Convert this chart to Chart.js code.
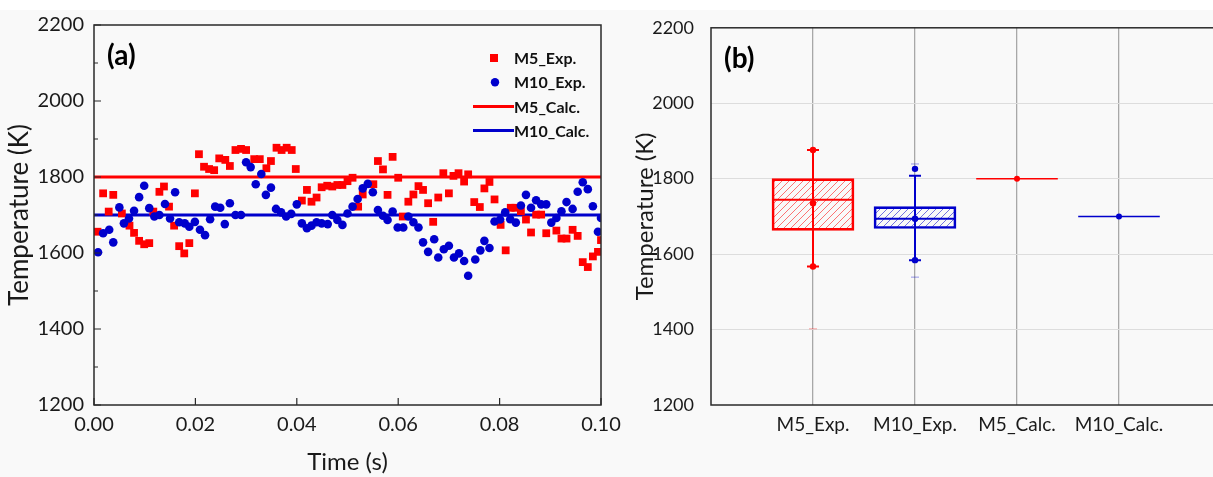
<!DOCTYPE html>
<html>
<head>
<meta charset="utf-8">
<script src="https://cdn.jsdelivr.net/npm/chart.js@4.4.1/dist/chart.umd.min.js"></script>
<style>
  html,body{margin:0;padding:0;background:#f9f9f9;overflow:hidden;width:1213px;height:477px;}
  #strip{position:absolute;left:0;top:0;width:1213px;height:10px;background:#ffffff;}
  .pane{position:absolute;top:0;height:477px;}
</style>
</head>
<body>
<div id="strip"></div>
<div class="pane" style="left:0;width:640px;"><canvas id="ca" width="640" height="477"></canvas></div>
<div class="pane" style="left:620px;width:640px;"><canvas id="cb" width="640" height="477"></canvas></div>
<script>
// ---------------- data ----------------
const m5Time = [0.0007,0.0018,0.0029,0.0038,0.0055,0.0070,0.0079,0.0089,0.0099,0.0109,0.0117,0.0129,0.0138,0.0148,0.0158,0.0168,0.0178,0.0188,0.0199,0.0207,0.0217,0.0227,0.0237,0.0247,0.0259,0.0268,0.0279,0.0290,0.0300,0.0316,0.0327,0.0340,0.0349,0.0360,0.0370,0.0380,0.0390,0.0398,0.0410,0.0420,0.0429,0.0439,0.0449,0.0460,0.0470,0.0480,0.0490,0.0500,0.0510,0.0521,0.0530,0.0551,0.0560,0.0570,0.0579,0.0589,0.0600,0.0609,0.0620,0.0630,0.0640,0.0649,0.0659,0.0669,0.0679,0.0689,0.0700,0.0709,0.0719,0.0730,0.0738,0.0750,0.0761,0.0770,0.0780,0.0790,0.0802,0.0812,0.0822,0.0831,0.0842,0.0852,0.0862,0.0872,0.0882,0.0892,0.0912,0.0922,0.0932,0.0944,0.0954,0.0964,0.0974,0.0984,0.0994,0.1000];
const m5Temp = [1656,1757,1709,1753,1704,1672,1653,1632,1623,1626,1709,1761,1775,1722,1672,1618,1599,1626,1757,1860,1827,1821,1818,1849,1845,1829,1871,1874,1871,1847,1847,1823,1842,1877,1871,1877,1871,1821,1738,1766,1735,1746,1773,1777,1775,1779,1779,1789,1798,1722,1754,1781,1842,1820,1753,1853,1798,1696,1735,1754,1776,1766,1731,1682,1746,1810,1757,1803,1810,1788,1807,1734,1721,1770,1787,1741,1674,1607,1719,1719,1710,1688,1654,1701,1701,1652,1659,1638,1638,1661,1645,1576,1563,1591,1603,1634];
const m10Time = [0.0008,0.0018,0.0030,0.0038,0.0050,0.0059,0.0069,0.0079,0.0089,0.0099,0.0109,0.0119,0.0129,0.0140,0.0150,0.0160,0.0168,0.0179,0.0188,0.0199,0.0209,0.0219,0.0229,0.0239,0.0249,0.0258,0.0268,0.0279,0.0290,0.0300,0.0309,0.0319,0.0330,0.0339,0.0349,0.0359,0.0369,0.0379,0.0389,0.0400,0.0410,0.0420,0.0429,0.0439,0.0449,0.0461,0.0470,0.0480,0.0490,0.0500,0.0510,0.0520,0.0530,0.0540,0.0550,0.0560,0.0570,0.0579,0.0589,0.0599,0.0610,0.0620,0.0630,0.0640,0.0649,0.0659,0.0671,0.0679,0.0690,0.0700,0.0710,0.0720,0.0730,0.0738,0.0752,0.0762,0.0770,0.0780,0.0790,0.0801,0.0811,0.0821,0.0832,0.0842,0.0852,0.0862,0.0872,0.0882,0.0892,0.0902,0.0912,0.0922,0.0932,0.0944,0.0954,0.0964,0.0974,0.0984,0.0994,0.1000];
const m10Temp = [1602,1652,1661,1628,1720,1678,1691,1711,1747,1777,1718,1696,1700,1729,1691,1760,1681,1678,1669,1682,1661,1647,1689,1722,1719,1676,1731,1700,1700,1839,1826,1781,1808,1753,1772,1716,1707,1696,1703,1728,1678,1665,1672,1681,1678,1676,1700,1687,1674,1704,1722,1742,1770,1782,1760,1713,1698,1687,1709,1667,1667,1696,1681,1667,1628,1603,1636,1588,1610,1619,1588,1599,1579,1540,1583,1607,1632,1613,1683,1688,1707,1689,1680,1725,1753,1719,1739,1728,1728,1680,1692,1710,1734,1716,1761,1786,1768,1723,1656,1692];
const calcLabels = ['M5_Calc.', 'M10_Calc.'];
const calcTemp = [1800, 1700];
const timeRange = [0, 0.1];
const tempRange = [1200, 2200];

const boxCategories = ['M5_Exp.', 'M10_Exp.', 'M5_Calc.', 'M10_Calc.'];
const boxQ1 = [1663, 1668];
const boxQ3 = [1800, 1726];
const boxMedian = [1744, 1694];
const boxMean = [1735, 1694];
const whiskerLow = [1567, 1584];
const whiskerHigh = [1876, 1808];
const dataMin = [1567, 1584];
const dataMax = [1876, 1826];
const faintMarks = [[1402], [1839, 1539]];

// ---------------- styles ----------------
const RED = '#ff0000', BLUE = '#0000cc';
const seriesColors = [RED, BLUE];
const FONT = 'Lato, "DejaVu Sans", sans-serif';
Chart.defaults.font.family = FONT;
Chart.defaults.color = '#1a1a1a';
const BOX_HALF = 0.4;

function hatch(color) {
  const c = document.createElement('canvas');
  c.width = 7; c.height = 7;
  const g = c.getContext('2d');
  g.strokeStyle = color; g.globalAlpha = 0.6; g.lineWidth = 0.9;
  g.beginPath();
  g.moveTo(-1, 8); g.lineTo(8, -1);
  g.stroke();
  return g.createPattern(c, 'repeat');
}

const framePlugin = {
  id: 'frame',
  afterDraw(chart, args, opts) {
    const {ctx, chartArea: a} = chart;
    ctx.save();
    ctx.strokeStyle = '#2a2a2a';
    ctx.lineWidth = 1.5;
    ctx.strokeRect(a.left, a.top, a.right - a.left, a.bottom - a.top);
    if (opts.ticks) {
      const ys = chart.scales.y, xs = chart.scales.x;
      ctx.lineWidth = 1.2;
      ctx.beginPath();
      const yt = ys.ticks.map(t => t.value);
      for (let i = 0; i < yt.length; i++) {
        const p = ys.getPixelForValue(yt[i]);
        ctx.moveTo(a.left, p); ctx.lineTo(a.left + 7, p);
        if (i < yt.length - 1) {
          const pm = ys.getPixelForValue((yt[i] + yt[i + 1]) / 2);
          ctx.moveTo(a.left, pm); ctx.lineTo(a.left + 4, pm);
        }
      }
      xs.ticks.forEach(t => {
        const p = xs.getPixelForValue(t.value);
        ctx.moveTo(p, a.bottom); ctx.lineTo(p, a.bottom - 7);
      });
      ctx.stroke();
    }
    if (opts.tag) {
      ctx.fillStyle = '#000';
      ctx.font = 'bold 28px ' + FONT;
      ctx.textBaseline = 'middle';
      ctx.textAlign = 'left';
      ctx.fillText(opts.tag, a.left + 13, a.top + 31);
    }
    if (opts.legend) {
      ctx.font = 'bold 16px ' + FONT;
      ctx.textBaseline = 'middle';
      ctx.textAlign = 'left';
      chart.data.datasets.forEach((ds, i) => {
        const y = a.top + 33 + i * 24.2;
        const tx = a.right - 87;
        const mx = a.right - 107;
        ctx.fillStyle = ds.backgroundColor || ds.borderColor;
        ctx.strokeStyle = ds.borderColor;
        if (ds.showLine) {
          ctx.lineWidth = 3;
          ctx.beginPath(); ctx.moveTo(a.right - 128, y); ctx.lineTo(a.right - 87, y); ctx.stroke();
        } else if (ds.pointStyle === 'rect') {
          ctx.fillRect(mx - 4, y - 4, 8, 8);
        } else {
          ctx.beginPath(); ctx.arc(mx + 1, y, 4.2, 0, Math.PI * 2); ctx.fill();
        }
        ctx.fillStyle = '#111';
        ctx.fillText(ds.label, tx, y + 1);
      });
    }
    ctx.restore();
  }
};

// ---------------- panel (a) ----------------
const pts = (xs, ys) => xs.map((x, i) => ({x, y: ys[i]}));
new Chart(document.getElementById('ca'), {
  type: 'scatter',
  data: {
    datasets: [
      {label: 'M5_Exp.', data: pts(m5Time, m5Temp), pointStyle: 'rect', pointRadius: 5.5, pointHoverRadius: 5.5,
       backgroundColor: RED, borderColor: RED, borderWidth: 0, order: 1},
      {label: 'M10_Exp.', data: pts(m10Time, m10Temp), pointStyle: 'circle', pointRadius: 4.3, pointHoverRadius: 4.3,
       backgroundColor: BLUE, borderColor: BLUE, borderWidth: 0, order: 0},
      {label: calcLabels[0], data: timeRange.map(t => ({x: t, y: calcTemp[0]})), showLine: true, pointRadius: 0,
       borderColor: RED, borderWidth: 3, order: 3},
      {label: calcLabels[1], data: timeRange.map(t => ({x: t, y: calcTemp[1]})), showLine: true, pointRadius: 0,
       borderColor: BLUE, borderWidth: 3, order: 2}
    ]
  },
  options: {
    responsive: false, animation: false,
    layout: {padding: {left: 0, top: 25, right: 39, bottom: 0}, autoPadding: false},
    plugins: {legend: {display: false}, tooltip: {enabled: false},
              frame: {ticks: true, tag: '(a)', legend: true}},
    scales: {
      x: {type: 'linear', min: timeRange[0], max: timeRange[1],
          afterFit(s) { s.height = 72; },
          grid: {display: false, drawTicks: false}, border: {display: false},
          ticks: {stepSize: 0.02, padding: 8, font: {size: 20}, color: '#1a1a1a', maxRotation: 0,
                  callback: v => v.toFixed(2)},
          title: {display: true, text: 'Time (s)', font: {size: 24}, color: '#1a1a1a', padding: {top: 0, bottom: 0}}},
      y: {min: tempRange[0], max: tempRange[1],
          afterFit(s) { s.width = 94; },
          grid: {display: false, drawTicks: false}, border: {display: false},
          ticks: {stepSize: 200, padding: 10, font: {size: 20}, color: '#1a1a1a', callback: v => String(v)},
          title: {display: true, text: 'Temperature (K)', font: {size: 26}, color: '#1a1a1a', padding: {top: 4, bottom: 0}}}
    }
  },
  plugins: [framePlugin]
});

// ---------------- panel (b) ----------------
const boxIdx = boxQ1.map((_, i) => i + 1);
const dsB = [];
dsB.push({type: 'bar', label: 'box',
  data: boxIdx.map((x, i) => ({x, y: [boxQ1[i], boxQ3[i]]})),
  backgroundColor: boxIdx.map((_, i) => hatch(seriesColors[i])),
  borderColor: seriesColors.slice(0, boxIdx.length),
  borderWidth: 2, borderSkipped: false, barThickness: 82, order: 20});
boxIdx.forEach((x, i) => {
  const col = seriesColors[i];
  dsB.push({type: 'line', data: [{x, y: whiskerLow[i]}, {x, y: whiskerHigh[i]}], borderColor: col, borderWidth: 2, pointRadius: 0, order: 10});
  dsB.push({type: 'line', data: [{x: x - BOX_HALF, y: boxMedian[i]}, {x: x + BOX_HALF, y: boxMedian[i]}], borderColor: col, borderWidth: 2, pointRadius: 0, order: 9});
  dsB.push({type: 'scatter', data: [{x, y: whiskerLow[i]}, {x, y: whiskerHigh[i]}], pointStyle: 'line', pointRadius: 6, borderColor: col, borderWidth: 2, order: 5});
  dsB.push({type: 'scatter', data: [{x, y: dataMin[i]}, {x, y: dataMax[i]}, {x, y: boxMean[i]}], pointStyle: 'circle', pointRadius: 3.2, backgroundColor: col, borderColor: col, borderWidth: 0, order: 4});
  dsB.push({type: 'scatter', data: faintMarks[i].map(v => ({x, y: v})), pointStyle: 'line', pointRadius: 4, borderColor: i === 0 ? 'rgba(255,0,0,0.35)' : 'rgba(0,0,204,0.4)', borderWidth: 1, order: 6});
});
calcTemp.forEach((v, i) => {
  const x = boxIdx.length + i + 1;
  const col = seriesColors[i];
  dsB.push({type: 'line', data: [{x: x - BOX_HALF, y: v}, {x: x + BOX_HALF, y: v}], borderColor: col, borderWidth: 1.5, pointRadius: 0, order: 8});
  dsB.push({type: 'scatter', data: [{x, y: v}], pointStyle: 'circle', pointRadius: 3, backgroundColor: col, borderColor: col, borderWidth: 0, order: 3});
});

const tickVal = c => (c && c.tick) ? c.tick.value : null;
new Chart(document.getElementById('cb'), {
  type: 'scatter',
  data: {datasets: dsB},
  options: {
    responsive: false, animation: false,
    layout: {padding: {left: 0, top: 25, right: 39, bottom: 0}, autoPadding: false},
    plugins: {legend: {display: false}, tooltip: {enabled: false},
              frame: {ticks: false, tag: '(b)', legend: false}},
    scales: {
      x: {type: 'linear', min: 0, max: boxCategories.length + 1, offset: false,
          afterFit(s) { s.height = 72; },
          grid: {offset: false, color: c => { const v = tickVal(c); return (v !== null && v > 0 && v <= boxCategories.length) ? '#a8a8a8' : 'rgba(0,0,0,0)'; },
                 lineWidth: 1.3, drawTicks: false},
          border: {display: false},
          ticks: {stepSize: 1, padding: 8, font: {size: 19}, color: '#1a1a1a', maxRotation: 0, autoSkip: false,
                  callback: v => boxCategories[v - 1] || ''}},
      y: {min: tempRange[0], max: tempRange[1],
          afterFit(s) { s.width = 91; },
          grid: {color: c => { const v = tickVal(c); return (v !== null && v > tempRange[0] && v < tempRange[1]) ? '#dddddd' : 'rgba(0,0,0,0)'; },
                 lineWidth: 1, drawTicks: false},
          border: {display: false},
          ticks: {stepSize: 200, padding: 17, font: {size: 18}, color: '#1a1a1a', callback: v => String(v)},
          title: {display: true, text: 'Temperature (K)', font: {size: 24}, color: '#1a1a1a', padding: {top: 11, bottom: 0}}}
    }
  },
  plugins: [framePlugin]
});
</script>
</body>
</html>
